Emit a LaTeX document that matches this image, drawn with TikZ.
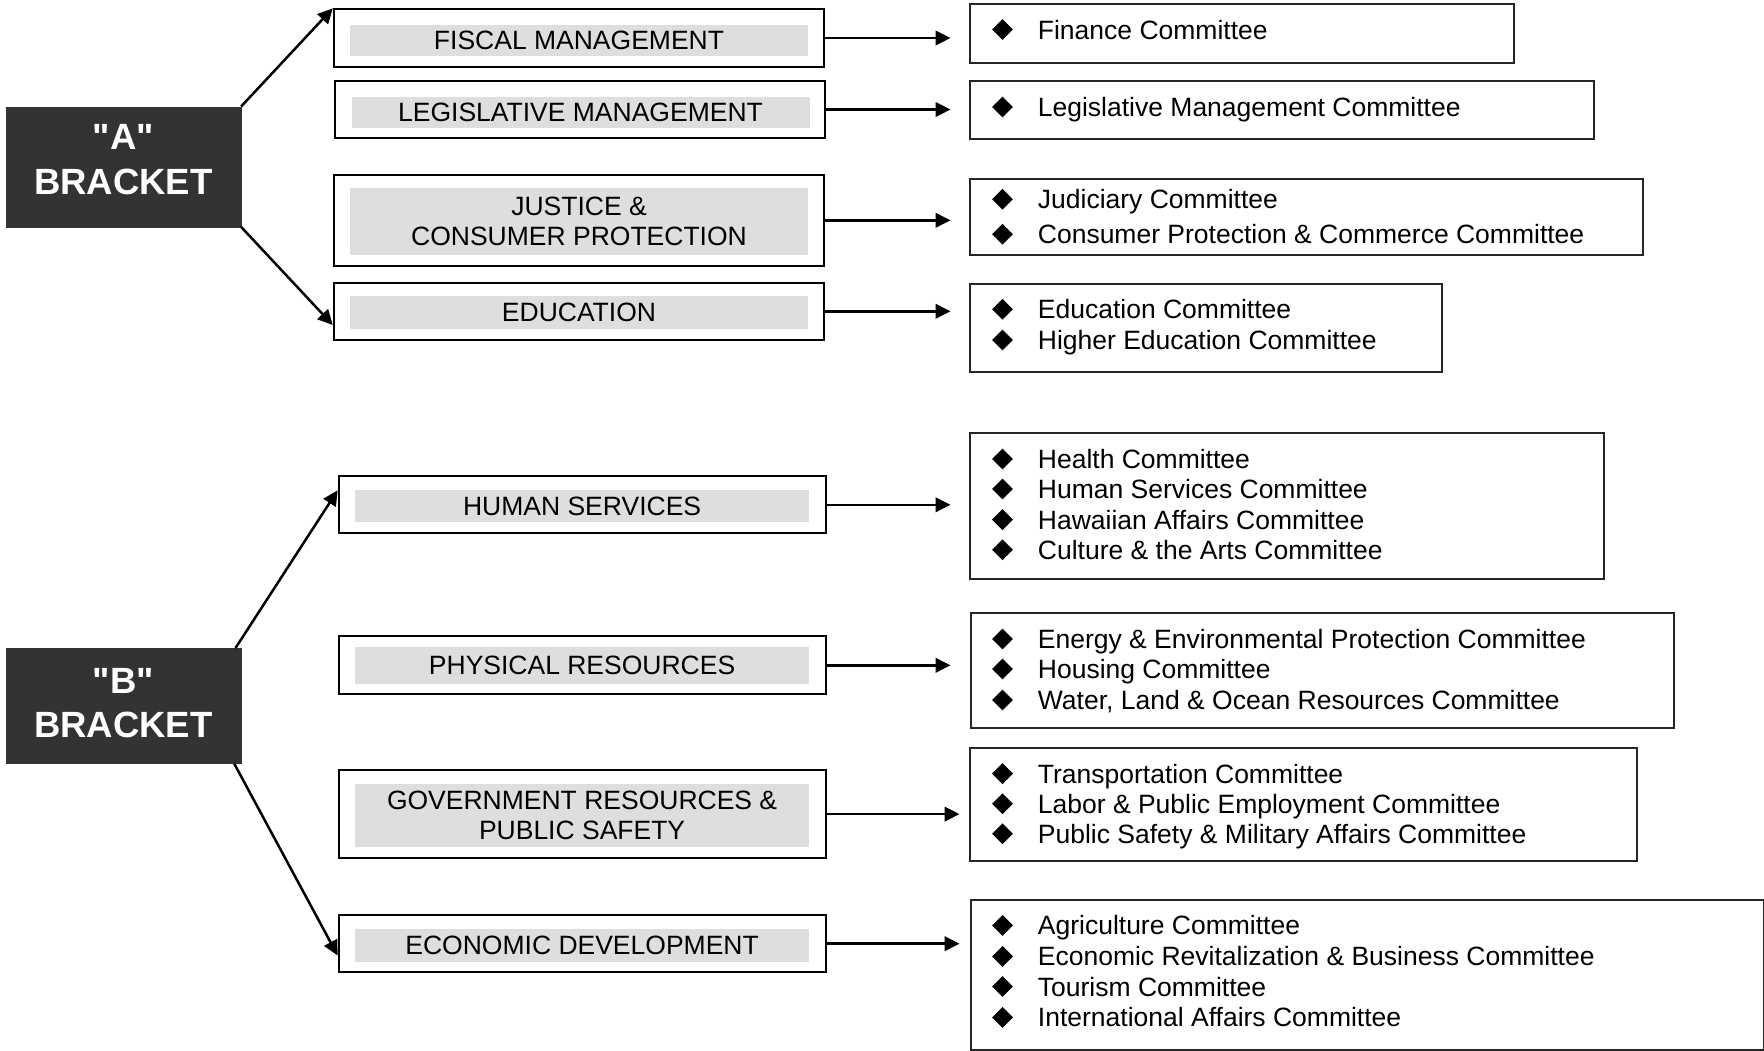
\documentclass[tikz,border=0pt]{standalone}
\usepackage{fontspec}
\setmainfont{Liberation Sans}
\newfontfamily\brkfont{Liberation Sans}
\usetikzlibrary{arrows.meta,shapes.geometric,calc}
\definecolor{brk}{HTML}{333333}
\definecolor{catgray}{HTML}{DEDEDE}
\begin{document}
\begin{tikzpicture}[x=1pt,y=-1pt,
  brkbox/.style={fill=brk,draw=brk,text=white,inner sep=0pt,minimum width=235pt},
  brktext/.style={text=white,inner sep=0pt,font=\brkfont\fontsize{36.5}{45}\selectfont\bfseries},
  catbox/.style={draw=black,line width=2pt,inner sep=0pt,minimum width=490pt},
  catfill/.style={fill=catgray,inner sep=0pt,minimum width=458pt,align=center,
     font=\fontsize{26.5}{30}\selectfont},
  combox/.style={draw=black!85,line width=2pt,inner sep=0pt,anchor=north west},
  item/.style={anchor=base west,inner sep=0pt,font=\fontsize{26.5}{30}\selectfont},
  bul/.style={diamond,fill=black,inner sep=0pt,minimum width=21pt,minimum height=21pt},
  arr/.style={line width=2.5pt,-{Triangle[length=15pt,width=14.5pt]}}
]
\useasboundingbox (0,0) rectangle (1764,1050);
\fill[white] (0,0) rectangle (1764,1050);

% bracket boxes
\node[brkbox,minimum height=120pt] (A) at (123.4,166.7) {};
\node[brktext] (Aq) at (123.4,136.7) {"A"};
\node[brktext] (Ab) at (123.4,181.7) {BRACKET};
\node[brkbox,minimum height=115.3pt] (B) at (123.4,705.9) {};
\node[brktext] (Bq) at (123.4,681) {"B"};
\node[brktext] (Bb) at (123.4,725.3) {BRACKET};

% category boxes
\node[catbox,minimum height=57.4pt] (fis) at (578.8,38) {};
\node[catfill,minimum height=30.7pt] (fisg) at (579,40.4) {FISCAL MANAGEMENT};
\node[catbox,minimum height=57pt] (leg) at (580.2,109.5) {};
\node[catfill,minimum height=30.7pt] (legg) at (580.5,112.3) {LEGISLATIVE MANAGEMENT};
\node[catbox,minimum height=91.3pt] (jus) at (578.8,220.3) {};
\node[catfill,minimum height=66.7pt] (jusg) at (579,221.3) {JUSTICE \&\\CONSUMER PROTECTION};
\node[catbox,minimum height=57.3pt] (edu) at (578.8,311.3) {};
\node[catfill,minimum height=32.7pt] (edug) at (579,312.3) {EDUCATION};

\node[catbox,minimum width=486.8pt,minimum height=57.1pt] (hs) at (582.1,504.8) {};
\node[catfill,minimum width=454.6pt,minimum height=32pt] (hsg) at (582.1,506.4) {HUMAN SERVICES};
\node[catbox,minimum width=486.8pt,minimum height=58.2pt] (phy) at (582.1,665.3) {};
\node[catfill,minimum width=454.6pt,minimum height=36.6pt] (phyg) at (582.1,665.3) {PHYSICAL RESOURCES};
\node[catbox,minimum width=486.8pt,minimum height=87.6pt] (gov) at (582.1,814.1) {};
\node[catfill,minimum width=454.6pt,minimum height=62.6pt] (govg) at (582.1,815.7) {GOVERNMENT RESOURCES \&\\PUBLIC SAFETY};
\node[catbox,minimum width=486.8pt,minimum height=57.4pt] (eco) at (582.1,943.7) {};
\node[catfill,minimum width=454.6pt,minimum height=32.6pt] (ecog) at (582.1,945.3) {ECONOMIC DEVELOPMENT};

% committee boxes
\node[combox,minimum width=544pt,minimum height=58.4pt] (c1) at (969,3.3) {};
\node[combox,minimum width=624pt,minimum height=58pt] (c2) at (969,80) {};
\node[combox,minimum width=672.6pt,minimum height=76pt] (c3) at (969,177.7) {};
\node[combox,minimum width=472pt,minimum height=88pt] (c4) at (969,282.7) {};
\node[combox,minimum width=633.6pt,minimum height=145.5pt] (c5) at (969,432) {};
\node[combox,minimum width=702.5pt,minimum height=114.5pt] (c6) at (970,612) {};
\node[combox,minimum width=667pt,minimum height=113.4pt] (c7) at (969,746.6) {};
\node[combox,minimum width=792.5pt,minimum height=149.5pt] (c8) at (970,899) {};

% committee items
\foreach \y/\t [count=\i] in {
  29.5/Finance Committee,
  107/Legislative Management Committee,
  199.3/Judiciary Committee,
  234.3/Consumer Protection \& Commerce Committee,
  309.3/Education Committee,
  340/Higher Education Committee,
  459/Health Committee,
  489/Human Services Committee,
  519.6/Hawaiian Affairs Committee,
  549.8/Culture \& the Arts Committee,
  639/Energy \& Environmental Protection Committee,
  669/Housing Committee,
  700/{Water, Land \& Ocean Resources Committee},
  773.6/Transportation Committee,
  803.7/Labor \& Public Employment Committee,
  833.8/Public Safety \& Military Affairs Committee,
  925.4/Agriculture Committee,
  956.4/Economic Revitalization \& Business Committee,
  986.5/Tourism Committee,
  1017.4/International Affairs Committee}{
  \node[bul] (d\i) at (1002.5,\y) {};
  \node[item] (t\i) at (1037.7,\y+9.5) {\t};
}

% arrows from brackets
\draw[arr] (A.north east) -- (fis.north west);
\draw[arr] (A.south east) -- ([yshift=-13.7pt]edu.west);
\draw[arr] ([xshift=-5.6pt]B.north east) -- ([yshift=14.5pt]hs.west);
\draw[arr] ([xshift=-6.8pt]B.south east) -- ([yshift=-11.8pt]eco.west);

% arrows to committees
\draw[arr,shorten >=18.5pt] (fis.east) -- (fis.east -| c1.west);
\draw[arr,shorten >=18.5pt] (leg.east) -- (leg.east -| c2.west);
\draw[arr,shorten >=18.5pt] (jus.east) -- (jus.east -| c3.west);
\draw[arr,shorten >=18.5pt] (edu.east) -- (edu.east -| c4.west);
\draw[arr,shorten >=18.5pt] (hs.east) -- (hs.east -| c5.west);
\draw[arr,shorten >=19.5pt] (phy.east) -- (phy.east -| c6.west);
\draw[arr,shorten >=9.5pt] (gov.east) -- (gov.east -| c7.west);
\draw[arr,shorten >=10.5pt] (eco.east) -- (eco.east -| c8.west);
\end{tikzpicture}
\end{document}
